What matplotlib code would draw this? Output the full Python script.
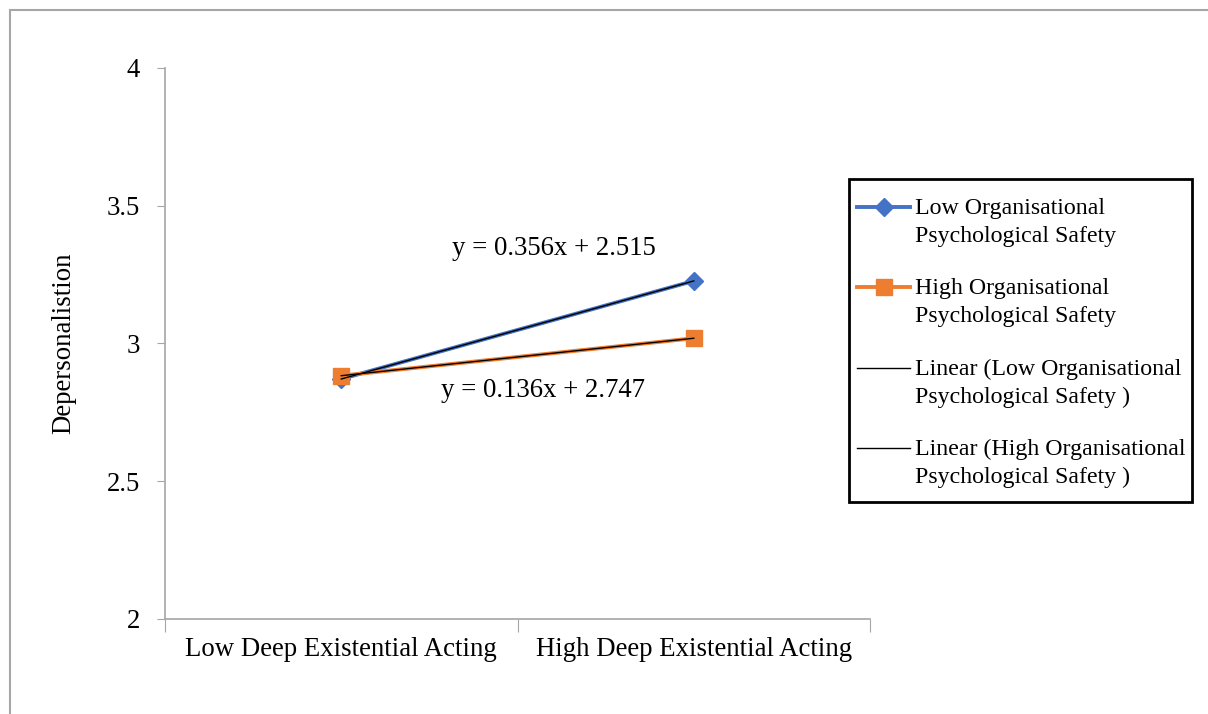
import matplotlib.pyplot as plt
from matplotlib.patches import Rectangle
from matplotlib.lines import Line2D

plt.rcParams['font.family'] = ['Liberation Serif', 'DejaVu Serif']

# data
categories = ['Low Deep Existential Acting', 'High Deep Existential Acting']
low_ops = [2.871, 3.227]
high_ops = [2.883, 3.019]
low_fit = (0.356, 2.515)
high_fit = (0.136, 2.747)
legend_labels = ['Low Organisational\nPsychological Safety',
                 'High Organisational\nPsychological Safety',
                 'Linear (Low Organisational\nPsychological Safety )',
                 'Linear (High Organisational\nPsychological Safety )']

W, H = 1208, 714
fig = plt.figure(figsize=(W / 100, H / 100), dpi=100)
ax = fig.add_axes([0.1366, 0.1331, 0.5836, 0.7717])


def fx(px):
    return px / W


def fy(py):
    return 1 - py / H


# outer chart frame (partly cut off at right/bottom)
fig.add_artist(Rectangle((fx(10), -0.05), 1.1, fy(10) + 0.05,
                         transform=fig.transFigure, fill=False,
                         edgecolor='#a6a6a6', linewidth=1.5))

x = [1, 2]
l1, = ax.plot(x, low_ops, color='#4472c4', linewidth=2.8, marker='D', markersize=9, zorder=3)
l2, = ax.plot(x, high_ops, color='#ed7d31', linewidth=2.8, marker='s', markersize=12, zorder=3)

# trendlines
l3, = ax.plot(x, [low_fit[0] * v + low_fit[1] for v in x], color='black', linewidth=1, zorder=4)
l4, = ax.plot(x, [high_fit[0] * v + high_fit[1] for v in x], color='black', linewidth=1, zorder=4)

ax.text(1.603, 3.343, 'y = 0.356x + 2.515', fontsize=19.3, ha='center', va='center')
ax.text(1.572, 2.828, 'y = 0.136x + 2.747', fontsize=19.3, ha='center', va='center')

ax.set_xlim(0.5, 2.5)
ax.set_ylim(2, 4)
ax.set_yticks([2, 2.5, 3, 3.5, 4])
ax.set_yticklabels(['2', '2.5', '3', '3.5', '4'])
ax.set_xticks([0.5, 1.5, 2.5])
ax.set_xticklabels([])
ax.set_xticks(x, minor=True)
ax.set_xticklabels(categories, minor=True)
ax.tick_params(axis='x', which='minor', length=0, pad=13, labelsize=19.3)
ax.tick_params(axis='x', which='major', length=9, direction='out', color='#a6a6a6')
ax.tick_params(axis='y', length=6, direction='out', color='#a6a6a6', labelsize=19.3, pad=12)
for s in ['top', 'right']:
    ax.spines[s].set_visible(False)
for s in ['left', 'bottom']:
    ax.spines[s].set_color('#a6a6a6')
    ax.spines[s].set_linewidth(1.2)

ax.set_ylabel('Depersonalistion', fontsize=19.3, labelpad=22)

# legend drawn by hand so the handle sits on the first text line, like Excel
fig.add_artist(Rectangle((fx(849), fy(502)), fx(1192) - fx(849), fy(179) - fy(502),
                         transform=fig.transFigure, fill=False,
                         edgecolor='black', linewidth=2))
entry_y = [207, 287, 368, 448]
for line, lab, py in zip([l1, l2, l3, l4], legend_labels, entry_y):
    fig.add_artist(Line2D([fx(857), fx(910)], [fy(py), fy(py)],
                          transform=fig.transFigure, color=line.get_color(),
                          linewidth=line.get_linewidth()))
    if line.get_marker() not in ('None', None, ''):
        fig.add_artist(Line2D([fx(883.5)], [fy(py)], transform=fig.transFigure,
                              linestyle='none', marker=line.get_marker(),
                              markersize=line.get_markersize(),
                              color=line.get_color()))
    fig.text(fx(915), fy(py - 9), lab, fontsize=17.2, ha='left', va='top',
             linespacing=1.42)

fig.savefig('out.png', dpi=100)
